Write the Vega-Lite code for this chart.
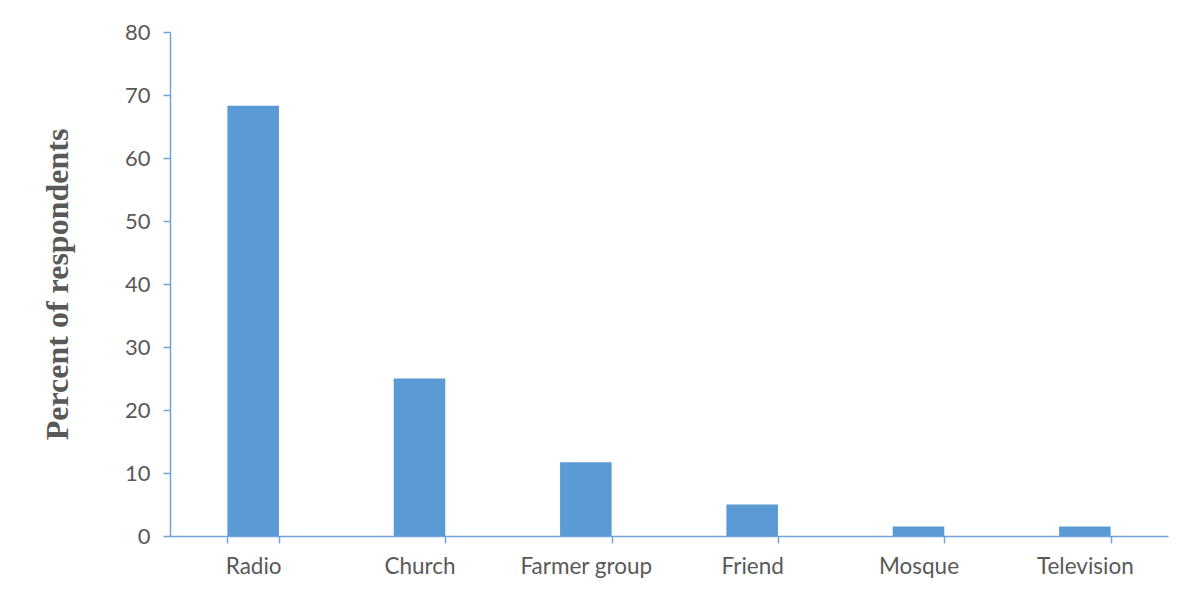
{
  "$schema": "https://vega.github.io/schema/vega-lite/v6.json",
  "autosize": {"type": "none"},
  "width": 998,
  "height": 504,
  "padding": {"left": 170, "top": 32, "right": 25, "bottom": 60},
  "background": "white",
  "data": {
    "values": [
      {"source": "Radio", "percent": 68.3},
      {"source": "Church", "percent": 25.0},
      {"source": "Farmer group", "percent": 11.7},
      {"source": "Friend", "percent": 5.0},
      {"source": "Mosque", "percent": 1.5},
      {"source": "Television", "percent": 1.5}
    ]
  },
  "mark": {"type": "bar", "color": "#5b9bd5"},
  "encoding": {
    "x": {
      "field": "source",
      "type": "nominal",
      "sort": null,
      "scale": {"paddingInner": 0.69, "paddingOuter": 0.345},
      "axis": {
        "title": null,
        "labelAngle": 0,
        "labelFont": "Lato",
        "labelFontSize": 22.5,
        "labelColor": "#595959",
        "labelPadding": 12,
        "domainColor": "#6fa3dc",
        "domainWidth": 1.5,
        "tickColor": "#6fa3dc",
        "tickWidth": 1.5,
        "tickSize": 7,
        "tickBand": "extent",
        "grid": false
      }
    },
    "y": {
      "field": "percent",
      "type": "quantitative",
      "scale": {"domain": [0, 80], "nice": false},
      "axis": {
        "title": "Percent of respondents",
        "titleFont": "Liberation Serif",
        "titleFontWeight": "bold",
        "titleFontSize": 32,
        "titleColor": "#595959",
        "titlePadding": 50,
        "values": [0, 10, 20, 30, 40, 50, 60, 70, 80],
        "labelFont": "Lato",
        "labelFontSize": 22,
        "labelColor": "#595959",
        "labelPadding": 13,
        "domainColor": "#6fa3dc",
        "domainWidth": 1.5,
        "tickColor": "#6fa3dc",
        "tickWidth": 1.5,
        "tickSize": 7,
        "grid": false
      }
    }
  },
  "config": {
    "view": {"stroke": null}
  }
}
